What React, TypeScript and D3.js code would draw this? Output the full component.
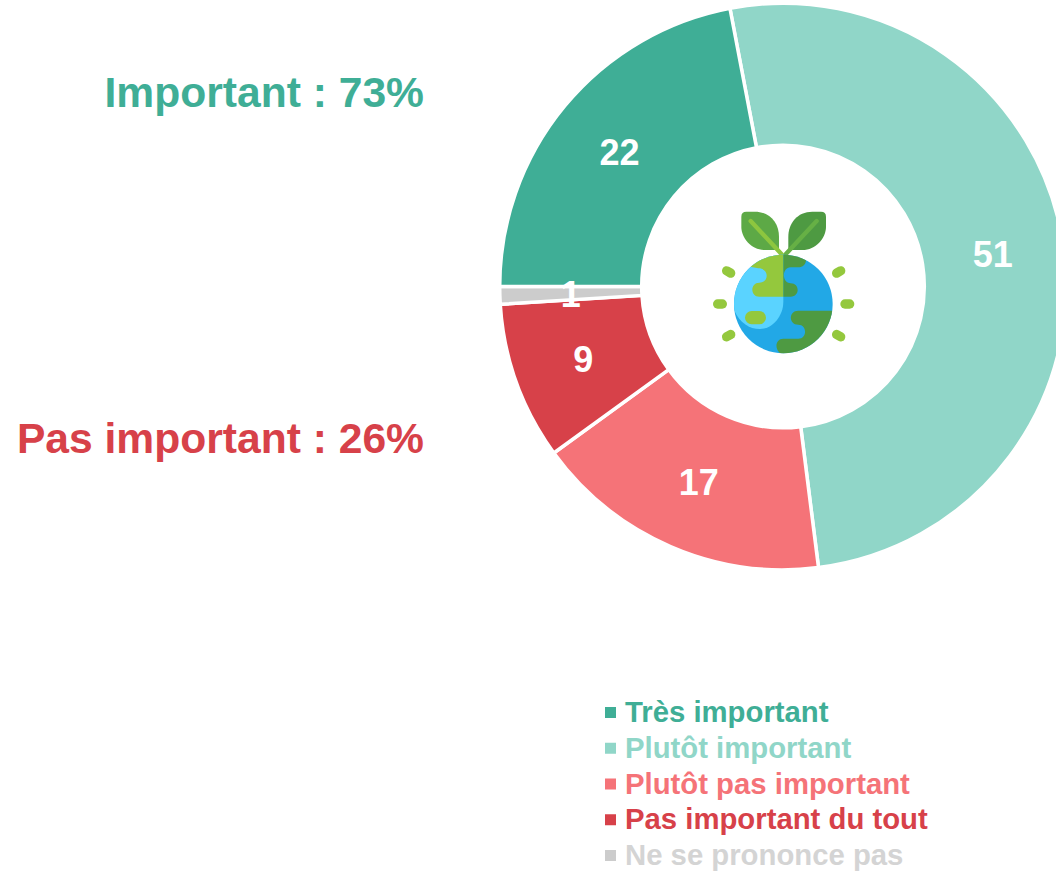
import React from "react";
import * as d3 from "d3";

const sliceNames = ["Plutôt important", "Plutôt pas important", "Pas important du tout", "Ne se prononce pas", "Très important"];
const sliceValues = [51, 17, 9, 1, 22];
const sliceColors = ["#90D6C8", "#F57378", "#D74149", "#CCCCCC", "#3FAE96"];

const legendNames = ["Très important", "Plutôt important", "Plutôt pas important", "Pas important du tout", "Ne se prononce pas"];
const legendColors = ["#3FAE96", "#90D6C8", "#F57378", "#D74149", "#D4D4D4"];
const legendSwatchColors = ["#3FAE96", "#90D6C8", "#F57378", "#D74149", "#CCCCCC"];

const summaryLabels = ["Important : 73%", "Pas important : 26%"];
const summaryColors = ["#3FAE96", "#D74149"];

const FONT = "'Liberation Sans', Arial, sans-serif";

function Icon() {
  const sides: [number, number, number][] = [
    [60, 327, 0], [442, 327, 0], [86, 231, 30], [416, 231, -30], [86, 422, -30], [416, 422, 30],
  ];
  return (
    <g transform="translate(700,195) scale(0.3333)">
      <defs>
        <clipPath id="globe"><circle cx={250} cy={327} r={148} /></clipPath>
      </defs>
      <path d="M124,65 Q124,50 139,50 L165,50 C210,50 237,85 237,125 L237,165 L195,165 C155,165 124,130 124,95 Z" fill="#5DA946" />
      <path d="M378,65 Q378,50 363,50 L337,50 C292,50 265,85 265,125 L265,165 L307,165 C347,165 378,130 378,95 Z" fill="#4E9A42" />
      <path d="M152,78 L245,178" stroke="#8DC63F" strokeWidth={13} strokeLinecap="round" fill="none" />
      <path d="M350,78 L257,178" stroke="#66B045" strokeWidth={13} strokeLinecap="round" fill="none" />
      <circle cx={250} cy={327} r={148} fill="#22A8E6" />
      <g clipPath="url(#globe)">
        <path d="M250,175 L250,320 C250,365 215,402 180,402 C145,402 115,380 98,335 L98,175 Z" fill="#5AD3FF" />
        <path d="M150,175 L250,175 L250,305 L178,305 C150,305 150,263 178,263 L178,263 C208,263 208,220 175,220 L150,215 Z" fill="#94C83D" />
        <path d="M250,175 L320,175 L318,195 C318,208 308,217 295,217 L272,217 C245,217 245,265 272,265 C300,265 300,305 272,305 L250,305 Z" fill="#4E9A42" />
        <path d="M405,347 L295,347 C265,347 265,389 295,389 C322,389 322,431 295,431 L250,431 C225,431 222,465 245,478 L405,478 Z" fill="#4E9A42" />
      </g>
      <rect x={135} y={348} width={63} height={40} rx={20} fill="#94C83D" />
      {sides.map(([x, y, r], i) => (
        <rect key={i} x={x - 21} y={y - 14} width={42} height={28} rx={14} fill="#94C83D" transform={`rotate(${r} ${x} ${y})`} />
      ))}
    </g>
  );
}

export default function App() {
  const cx = 783;
  const cy = 286.5;
  const start = (-10.8 * Math.PI) / 180;
  const pie = d3.pie<number>().sort(null).startAngle(start).endAngle(start + 2 * Math.PI);
  const arc = d3.arc<d3.PieArcDatum<number>>().innerRadius(141.3).outerRadius(283.3);
  const arcs = pie(sliceValues);
  const legendY = d3.scalePoint<string>().domain(legendNames).range([711.5, 854.5]);
  return (
    <svg width={1056} height={871} style={{ position: "absolute", left: 0, top: 0 }} fontFamily={FONT} fontWeight="bold">
      <g transform={`translate(${cx},${cy})`}>
        {arcs.map((a, i) => (
          <path key={sliceNames[i]} d={arc(a) ?? ""} fill={sliceColors[i]} stroke="#fff" strokeWidth={3.5} />
        ))}
        {arcs.map((a, i) => {
          const [x, y] = arc.centroid(a);
          return (
            <text key={i} x={x} y={y + 1} textAnchor="middle" dominantBaseline="central" fontSize={36} fill="#fff">
              {a.data}
            </text>
          );
        })}
      </g>
      <Icon />
      {summaryLabels.map((t, i) => (
        <text key={t} x={424} y={i === 0 ? 92 : 438} textAnchor="end" dominantBaseline="central" fontSize={42.6} fill={summaryColors[i]}>
          {t}
        </text>
      ))}
      {legendNames.map((t, i) => {
        const y = legendY(t) ?? 0;
        return (
          <g key={t}>
            <rect x={605} y={y - 4.5} width={11} height={11} fill={legendSwatchColors[i]} />
            <text x={625} y={y} dominantBaseline="central" fontSize={29.3} fill={legendColors[i]}>
              {t}
            </text>
          </g>
        );
      })}
    </svg>
  );
}
